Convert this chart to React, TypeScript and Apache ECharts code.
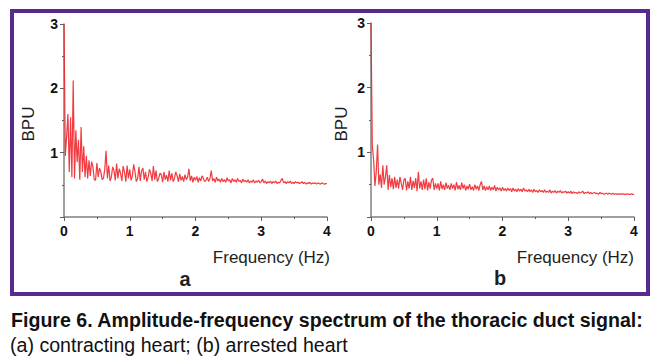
import React, { useEffect, useRef } from "react";
import * as echarts from "echarts";

const FREQ_STEP = 0.02; // Hz between samples, starting at 0 Hz

// (a) contracting heart — amplitude (BPU), one value per 0.02 Hz
const A_VALUES: number[] = [
  3.0, 0.95, 1.25, 1.6, 0.7, 1.55, 0.62, 2.12, 0.6, 1.35,
  0.85, 1.2, 0.58, 1.4, 0.7, 1.1, 0.62, 0.95, 0.6, 0.88,
  0.64, 0.86, 0.78, 0.58, 0.57, 0.84, 0.62, 0.76, 0.7, 0.58,
  0.6, 0.74, 1.03, 0.6, 0.8, 0.56, 0.62, 0.78, 0.72, 0.57,
  0.83, 0.6, 0.75, 0.68, 0.56, 0.79, 0.7, 0.55, 0.8, 0.6,
  0.74, 0.57, 0.64, 0.82, 0.7, 0.55, 0.6, 0.78, 0.56, 0.72,
  0.76, 0.58, 0.7, 0.55, 0.62, 0.74, 0.68, 0.56, 0.79, 0.58,
  0.72, 0.55, 0.6, 0.68, 0.66, 0.54, 0.7, 0.58, 0.65, 0.55,
  0.72, 0.57, 0.68, 0.55, 0.6, 0.7, 0.64, 0.55, 0.67, 0.57,
  0.63, 0.55, 0.66, 0.58, 0.62, 0.75, 0.56, 0.64, 0.54, 0.62,
  0.57, 0.63, 0.54, 0.61, 0.56, 0.64, 0.6, 0.55, 0.57, 0.62,
  0.55, 0.6, 0.72, 0.56, 0.6, 0.54, 0.62, 0.56, 0.59, 0.54,
  0.6, 0.55, 0.58, 0.54, 0.61, 0.56, 0.58, 0.53, 0.6, 0.55,
  0.58, 0.54, 0.6, 0.55, 0.57, 0.53, 0.59, 0.55, 0.57, 0.54,
  0.58, 0.53, 0.56, 0.54, 0.58, 0.53, 0.56, 0.54, 0.57, 0.53,
  0.55, 0.59, 0.53, 0.56, 0.52, 0.55, 0.53, 0.56, 0.52, 0.55,
  0.53, 0.56, 0.52, 0.54, 0.53, 0.57, 0.6, 0.53, 0.55, 0.52,
  0.55, 0.53, 0.56, 0.52, 0.54, 0.52, 0.55, 0.53, 0.54, 0.52,
  0.53, 0.55, 0.52, 0.54, 0.51, 0.53, 0.52, 0.54, 0.51, 0.53,
  0.52, 0.53, 0.51, 0.53, 0.52, 0.51, 0.53, 0.52, 0.51, 0.52,
  0.52,
];

// (b) arrested heart — amplitude (BPU), one value per 0.02 Hz
const B_VALUES: number[] = [
  3.0, 1.1, 0.88, 0.48, 0.7, 1.12, 0.5, 0.66, 0.45, 0.8,
  0.5, 0.62, 0.8, 0.42, 0.65, 0.46, 0.6, 0.43, 0.62, 0.45,
  0.58, 0.44, 0.62, 0.52, 0.42, 0.57, 0.6, 0.41, 0.55, 0.44,
  0.62, 0.42, 0.56, 0.45, 0.6, 0.4, 0.7, 0.44, 0.55, 0.42,
  0.58, 0.43, 0.6, 0.41, 0.54, 0.44, 0.57, 0.6, 0.42, 0.52,
  0.44, 0.52, 0.41, 0.55, 0.43, 0.5, 0.42, 0.53, 0.44, 0.49,
  0.42, 0.52, 0.44, 0.5, 0.41, 0.54, 0.43, 0.49, 0.42, 0.53,
  0.44, 0.5, 0.41, 0.48, 0.43, 0.51, 0.42, 0.47, 0.41, 0.5,
  0.43, 0.48, 0.41, 0.5, 0.55, 0.42, 0.48, 0.41, 0.47, 0.42,
  0.48, 0.41, 0.46, 0.42, 0.49, 0.4, 0.46, 0.42, 0.45, 0.4,
  0.46, 0.41, 0.44, 0.4, 0.45, 0.41, 0.44, 0.39, 0.45, 0.4,
  0.43, 0.39, 0.44, 0.4, 0.43, 0.39, 0.45, 0.4, 0.42, 0.39,
  0.43, 0.39, 0.42, 0.38, 0.43, 0.39, 0.41, 0.38, 0.42, 0.39,
  0.41, 0.38, 0.42, 0.38, 0.4, 0.38, 0.42, 0.37, 0.4, 0.38,
  0.41, 0.37, 0.4, 0.38, 0.41, 0.37, 0.39, 0.38, 0.4, 0.37,
  0.39, 0.37, 0.4, 0.36, 0.39, 0.37, 0.38, 0.36, 0.39, 0.37,
  0.38, 0.4, 0.36, 0.38, 0.37, 0.39, 0.36, 0.38, 0.36, 0.37,
  0.38, 0.36, 0.37, 0.35, 0.38, 0.36, 0.37, 0.35, 0.36, 0.37,
  0.35, 0.37, 0.36, 0.35, 0.37, 0.35, 0.36, 0.35, 0.36, 0.35,
  0.36, 0.35, 0.36, 0.35, 0.35, 0.36, 0.35, 0.35, 0.36, 0.35,
  0.35,
];

const X_TICKS = { min: 0, max: 4, interval: 1 };
const Y_TICKS = { min: 0, max: 3, interval: 1 };

const PANEL_LETTERS = ["a", "b"];
const X_NAME = "Frequency (Hz)";
const Y_NAME = "BPU";
const CAPTION_1 = "Figure 6. Amplitude-frequency spectrum of the thoracic duct signal:";
const CAPTION_2 = "(a) contracting heart; (b) arrested heart";

const FONT = "Arial, 'Liberation Sans', Helvetica, sans-serif";

function toPairs(vals: number[]): [number, number][] {
  return vals.map((v, i) => [Number((i * FREQ_STEP).toFixed(2)), v]);
}

export default function App() {
  const ref = useRef<HTMLDivElement>(null);

  useEffect(() => {
    if (!ref.current) return;
    const chart = echarts.init(ref.current, undefined, { renderer: "svg" });

    const axisCommon = {
      axisLine: { show: true, onZero: false, lineStyle: { color: "#808080", width: 1.5 } },
      axisTick: { show: true, inside: false, length: 4, lineStyle: { color: "#606060", width: 1 } },
      minorTick: { show: true, splitNumber: 2, length: 2, lineStyle: { color: "#606060", width: 1 } },
      splitLine: { show: false },
      minorSplitLine: { show: false },
      axisLabel: { color: "#111", fontWeight: "bold", fontSize: 14, fontFamily: FONT },
    };

    const xAxes = [0, 1].map((g) => ({
      type: "value",
      gridIndex: g,
      ...X_TICKS,
      ...axisCommon,
      axisLabel: { ...axisCommon.axisLabel, margin: 7 },
    }));
    const yAxes = [0, 1].map((g) => ({
      type: "value",
      gridIndex: g,
      ...Y_TICKS,
      ...axisCommon,
      axisLabel: { ...axisCommon.axisLabel, margin: 6, showMinLabel: false },
    }));

    const lineSeries = (g: number, vals: number[]) => ({
      type: "line",
      xAxisIndex: g,
      yAxisIndex: g,
      data: toPairs(vals),
      showSymbol: false,
      symbol: "none",
      lineStyle: { color: "#f0262c", width: 1.2, opacity: 0.9 },
      clip: true,
    });

    const textStyle = (size: number, bold = false) => ({
      fill: "#1e1e1e",
      font: `${bold ? "bold " : ""}${size}px ${FONT}`,
    });

    chart.setOption({
      animation: false,
      backgroundColor: "#ffffff",
      grid: [
        { left: 64, top: 24, width: 263, height: 193 },
        { left: 371, top: 23, width: 263, height: 194 },
      ],
      xAxis: xAxes,
      yAxis: yAxes,
      series: [lineSeries(0, A_VALUES), lineSeries(1, B_VALUES)],
      graphic: [
        {
          type: "rect",
          shape: { x: 12, y: 11, width: 636, height: 283 },
          style: { fill: "none", stroke: "#572a8e", lineWidth: 4 },
          silent: true,
        },
        {
          type: "text", x: 28, y: 124, rotation: Math.PI / 2,
          style: { ...textStyle(17), text: Y_NAME, textAlign: "center", textVerticalAlign: "middle" },
        },
        {
          type: "text", x: 341, y: 124, rotation: Math.PI / 2,
          style: { ...textStyle(17), text: Y_NAME, textAlign: "center", textVerticalAlign: "middle" },
        },
        {
          type: "text", x: 330, y: 257,
          style: { ...textStyle(17), text: X_NAME, textAlign: "right", textVerticalAlign: "middle" },
        },
        {
          type: "text", x: 634, y: 257,
          style: { ...textStyle(17), text: X_NAME, textAlign: "right", textVerticalAlign: "middle" },
        },
        {
          type: "text", x: 185, y: 279,
          style: { ...textStyle(20, true), text: PANEL_LETTERS[0], textAlign: "center", textVerticalAlign: "middle" },
        },
        {
          type: "text", x: 500, y: 278,
          style: { ...textStyle(20, true), text: PANEL_LETTERS[1], textAlign: "center", textVerticalAlign: "middle" },
        },
        {
          type: "text", x: 11, y: 320,
          style: { fill: "#111", font: `bold 19.6px ${FONT}`, text: CAPTION_1, textAlign: "left", textVerticalAlign: "middle" },
        },
        {
          type: "text", x: 10, y: 345,
          style: { fill: "#111", font: `19.6px ${FONT}`, text: CAPTION_2, textAlign: "left", textVerticalAlign: "middle" },
        },
      ],
    });

    return () => chart.dispose();
  }, []);

  return (
    <div
      ref={ref}
      style={{ position: "absolute", left: 0, top: 0, width: 659, height: 364, background: "#fff" }}
    />
  );
}
